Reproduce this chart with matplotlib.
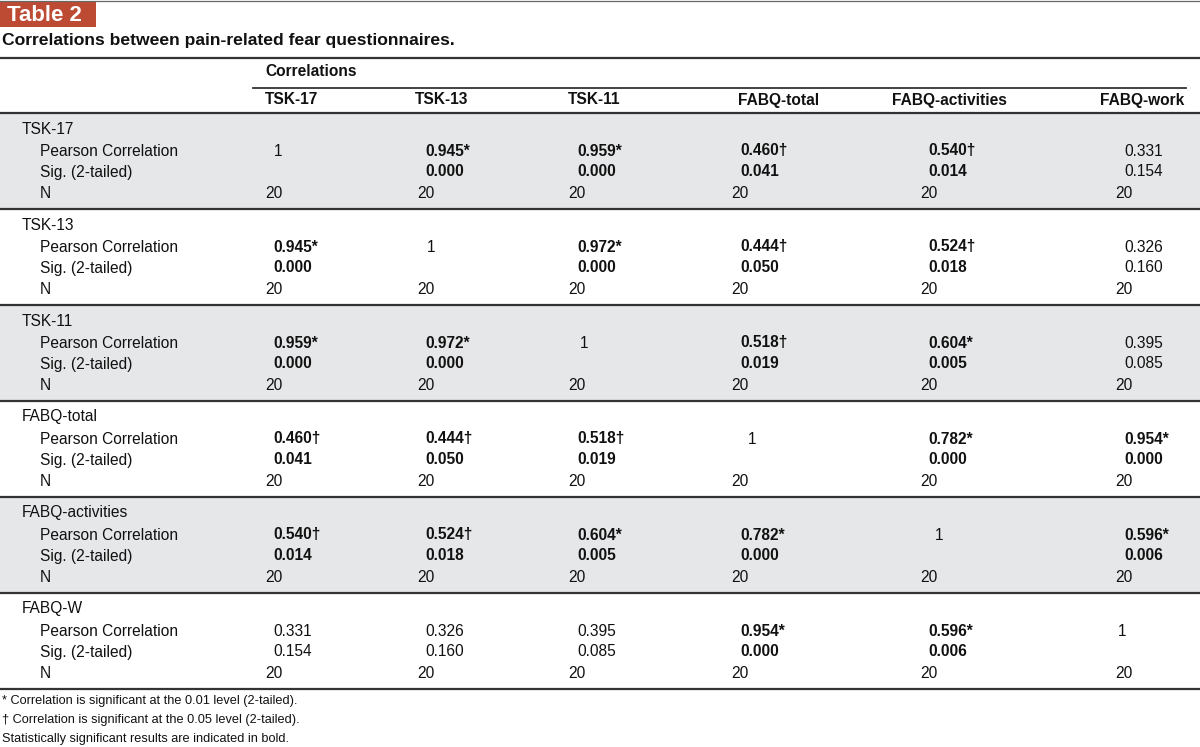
import matplotlib
matplotlib.use('Agg')
import matplotlib.pyplot as plt
from matplotlib import font_manager

# --- table data ---
row_names = ['TSK-17', 'TSK-13', 'TSK-11', 'FABQ-total', 'FABQ-activities', 'FABQ-W']
col_names = ['TSK-17', 'TSK-13', 'TSK-11', 'FABQ-total', 'FABQ-activities', 'FABQ-work']
stat_names = ['Pearson Correlation', 'Sig. (2-tailed)', 'N']

pearson = [
    [1, 0.945, 0.959, 0.460, 0.540, 0.331],
    [0.945, 1, 0.972, 0.444, 0.524, 0.326],
    [0.959, 0.972, 1, 0.518, 0.604, 0.395],
    [0.460, 0.444, 0.518, 1, 0.782, 0.954],
    [0.540, 0.524, 0.604, 0.782, 1, 0.596],
    [0.331, 0.326, 0.395, 0.954, 0.596, 1],
]
sig = [
    [None, 0.000, 0.000, 0.041, 0.014, 0.154],
    [0.000, None, 0.000, 0.050, 0.018, 0.160],
    [0.000, 0.000, None, 0.019, 0.005, 0.085],
    [0.041, 0.050, 0.019, None, 0.000, 0.000],
    [0.014, 0.018, 0.005, 0.000, None, 0.006],
    [0.154, 0.160, 0.085, 0.000, 0.006, None],
]
flags = [
    ['', '*', '*', '†', '†', ''],
    ['*', '', '*', '†', '†', ''],
    ['*', '*', '', '†', '*', ''],
    ['†', '†', '†', '', '*', '*'],
    ['†', '†', '*', '*', '', '*'],
    ['', '', '', '*', '*', ''],
]
n_obs = [
    [20, 20, 20, 20, 20, 20],
    [20, 20, 20, 20, 20, 20],
    [20, 20, 20, 20, 20, 20],
    [20, 20, 20, 20, 20, 20],
    [20, 20, 20, 20, 20, 20],
    [20, 20, 20, 20, 20, 20],
]
footnotes = [
    '* Correlation is significant at the 0.01 level (2-tailed).',
    '† Correlation is significant at the 0.05 level (2-tailed).',
    'Statistically significant results are indicated in bold.',
]

# --- fonts ---
try:
    font_manager.findfont('Liberation Sans Narrow', fallback_to_default=False)
    cond = ['Liberation Sans Narrow', 'DejaVu Sans']
    body_fs = 12.5
    foot_fs = 10.5
except Exception:
    cond = ['Liberation Sans', 'DejaVu Sans']
    body_fs = 11.2
    foot_fs = 9.2
wide = ['Liberation Sans', 'DejaVu Sans']

# --- layout (pixels) ---
W, H = 1200, 747
head_x = [265, 415, 568, 738, 892, 1100]
val_x = [273, 425, 577, 740, 928, 1124]
one_x = [274, 427, 580, 748, 935, 1118]
n_x = [265, 417, 568, 731, 920, 1115]
grp_top = 113
grp_h = 96
line_col = '#333333'
band_col = '#e6e7e8'
ink = '#111111'

fig = plt.figure(figsize=(12, 7.47), dpi=100)
ax = fig.add_axes([0, 0, 1, 1])
ax.set_xlim(0, W)
ax.set_ylim(H, 0)
ax.axis('off')

# title block
ax.plot([0, W], [0.8, 0.8], color='#666666', lw=0.9)
ax.add_patch(plt.Rectangle((0, 2), 96, 25, facecolor='#bd4b34', edgecolor='none'))
ax.text(7, 15.5, 'Table 2', family=wide, fontsize=16, fontweight='bold', color='white', va='center')
ax.text(2, 41, 'Correlations between pain-related fear questionnaires.', family=wide,
        fontsize=12.6, fontweight='bold', color=ink, va='center')

# header
ax.plot([0, W], [58, 58], color=line_col, lw=1.6)
ax.text(265, 72, 'Correlations', family=cond, fontsize=body_fs, fontweight='bold', va='center', color=ink)
ax.plot([253, 1186], [88, 88], color=line_col, lw=1.3)
for x, name in zip(head_x, col_names):
    ax.text(x, 100, name, family=cond, fontsize=body_fs, fontweight='bold', va='center', color=ink)
ax.plot([0, W], [grp_top, grp_top], color=line_col, lw=1.6)

# body groups
for i, rname in enumerate(row_names):
    top = grp_top + i * grp_h
    if i % 2 == 0:
        ax.add_patch(plt.Rectangle((0, top), W, grp_h, facecolor=band_col, edgecolor='none', zorder=0))
    ax.text(22, top + 16, rname, family=cond, fontsize=body_fs, va='center', color=ink)
    for k, sname in enumerate(stat_names):
        ax.text(40, top + 38 + k * 21, sname, family=cond, fontsize=body_fs, va='center', color=ink)
    for j in range(len(col_names)):
        bold = 'bold' if flags[i][j] else 'normal'
        if i == j:
            ax.text(one_x[j], top + 38, str(pearson[i][j]), family=cond, fontsize=body_fs,
                    va='center', color=ink)
        else:
            ax.text(val_x[j], top + 38, f'{pearson[i][j]:.3f}{flags[i][j]}', family=cond,
                    fontsize=body_fs, fontweight=bold, va='center', color=ink)
            ax.text(val_x[j], top + 59, f'{sig[i][j]:.3f}', family=cond,
                    fontsize=body_fs, fontweight=bold, va='center', color=ink)
        ax.text(n_x[j], top + 80, str(n_obs[i][j]), family=cond, fontsize=body_fs,
                va='center', color=ink)
    ax.plot([0, W], [top + grp_h, top + grp_h], color=line_col, lw=1.6)

# footnotes
for k, note in enumerate(footnotes):
    ax.text(2, 701 + k * 19, note, family=cond, fontsize=foot_fs, va='center', color=ink)

fig.savefig('out.png', dpi=100, facecolor='white')
plt.close()
